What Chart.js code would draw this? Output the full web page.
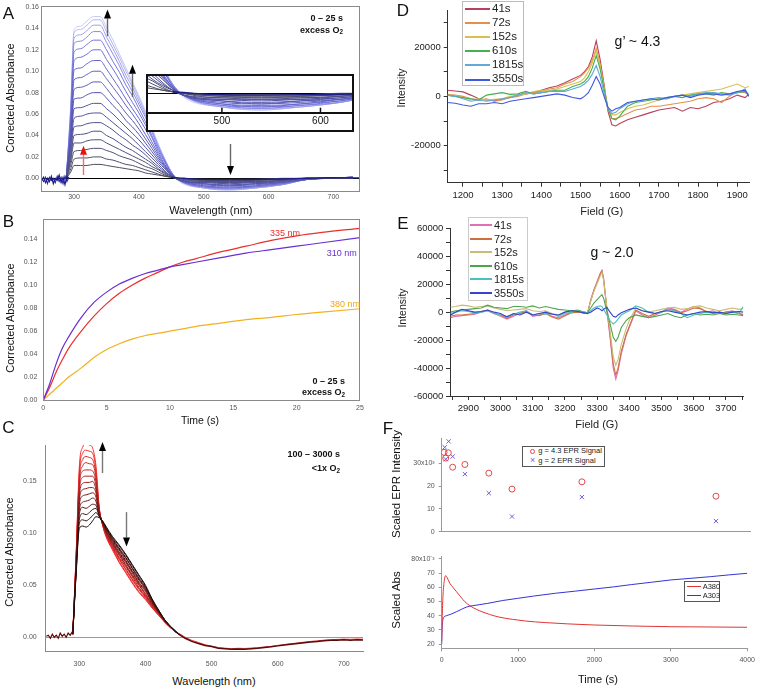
<!DOCTYPE html>
<html><head><meta charset="utf-8">
<script src="https://cdn.jsdelivr.net/npm/chart.js@4.4.1/dist/chart.umd.min.js"></script>
<style>
html,body{margin:0;padding:0;background:#fff;}
#root{position:relative;width:760px;height:688px;overflow:hidden;font-family:"Liberation Sans",Arial,Helvetica,sans-serif;}
.t{position:absolute;white-space:nowrap;line-height:1;}
.sub{font-size:0.7em;position:relative;top:0.25em;}
</style></head><body><div id="root"></div>
<script>
// ================= DATA =================
// ---- Panel A : spectra 0-25 s (nm vs corrected absorbance), early -> late
const A_X = [288,295,300,310,320,330,340,350,360,370,380,390,400,410,420,430,440,450,460,500,540,580,620,660,730];
const A_S01 = [0,.006,.012,.012,.012,.013,.013,.012,.011,.010,.009,.008,.007,.005,.004,.003,.002,.001,0,-.001,-.001,-.001,0,0,0];
const A_S02 = [0,.009,.018,.019,.019,.020,.020,.018,.017,.015,.013,.012,.010,.008,.006,.004,.002,.001,0,-.001,-.001,-.001,-.001,0,0];
const A_S03 = [0,.013,.025,.026,.027,.028,.028,.026,.024,.021,.019,.017,.014,.011,.009,.006,.003,.001,0,-.002,-.002,-.002,-.001,0,0];
const A_S04 = [0,.017,.033,.033,.035,.036,.036,.033,.030,.027,.024,.021,.018,.015,.011,.008,.004,.001,0,-.002,-.003,-.002,-.001,0,0];
const A_S05 = [0,.020,.040,.041,.042,.044,.044,.040,.037,.033,.029,.026,.022,.018,.014,.009,.005,.002,0,-.003,-.003,-.003,-.002,0,0];
const A_S06 = [0,.024,.048,.049,.051,.052,.052,.049,.045,.040,.036,.031,.027,.022,.016,.011,.006,.002,-.001,-.003,-.004,-.003,-.002,0,0];
const A_S07 = [0,.029,.056,.058,.060,.061,.061,.057,.052,.047,.042,.037,.031,.025,.019,.013,.007,.002,-.001,-.004,-.004,-.004,-.002,0,0];
const A_S08 = [0,.033,.065,.066,.068,.070,.070,.065,.060,.054,.048,.042,.036,.029,.022,.015,.009,.003,-.001,-.004,-.005,-.004,-.003,0,0];
const A_S09 = [0,.037,.074,.075,.078,.080,.080,.075,.068,.062,.054,.048,.041,.033,.025,.017,.010,.003,-.001,-.005,-.006,-.005,-.003,-.001,.001];
const A_S10 = [0,.042,.083,.085,.087,.090,.090,.084,.076,.069,.061,.054,.046,.037,.028,.019,.011,.004,-.001,-.005,-.007,-.005,-.004,-.001,.001];
const A_S11 = [0,.046,.092,.094,.097,.100,.100,.093,.085,.077,.068,.060,.051,.041,.031,.021,.012,.004,-.001,-.006,-.007,-.006,-.004,-.001,.001];
const A_S12 = [0,.051,.101,.103,.107,.110,.110,.102,.093,.084,.074,.065,.056,.046,.034,.023,.013,.004,-.001,-.007,-.008,-.007,-.004,-.001,.001];
const A_S13 = [0,.056,.110,.113,.116,.120,.120,.111,.102,.092,.081,.071,.061,.050,.038,.025,.015,.005,-.001,-.007,-.009,-.007,-.005,-.001,.001];
const A_S14 = [0,.060,.118,.121,.125,.129,.129,.120,.109,.099,.087,.077,.065,.053,.040,.027,.016,.005,-.001,-.008,-.009,-.008,-.005,-.001,.001];
const A_S15 = [0,.063,.126,.128,.132,.137,.137,.127,.116,.105,.092,.081,.069,.057,.043,.029,.017,.006,-.001,-.008,-.010,-.008,-.006,-.001,.001];
const A_S16 = [0,.066,.131,.134,.138,.143,.143,.132,.121,.109,.096,.085,.072,.059,.045,.030,.017,.006,-.001,-.009,-.010,-.009,-.006,-.001,.001];
const A_S17 = [0,.069,.136,.139,.143,.148,.148,.137,.125,.113,.100,.088,.075,.061,.046,.031,.018,.006,-.001,-.009,-.011,-.009,-.006,-.001,.001];
const A_S18 = [0,.070,.139,.142,.147,.151,.151,.141,.129,.116,.103,.090,.077,.063,.047,.032,.018,.006,-.002,-.009,-.011,-.009,-.006,-.001,.001];
const A_CURVES = [A_S01,A_S02,A_S03,A_S04,A_S05,A_S06,A_S07,A_S08,A_S09,A_S10,A_S11,A_S12,A_S13,A_S14,A_S15,A_S16,A_S17,A_S18];
const A_NOISE_X = [250,253,256,259,262,265,268,271,274,277,280,283,286,289,292];
const A_NOISE1 = [-0.002,0.001,-0.004,0.000,-0.003,0.002,-0.005,0.000,-0.002,0.003,-0.004,0.001,-0.006,0.002,0.000];
const A_NOISE2 = [0.000,-0.003,0.001,-0.005,0.001,-0.002,0.000,-0.004,0.002,-0.003,0.001,-0.005,0.002,-0.003,0.001];
const A_BASE_X = [450,470,500,540,580,620,660,700,740];
const A_BASE = [0.001,0,-0.001,-0.0012,-0.001,-0.0007,0,0.0005,0.0004];
const A_XTICKS = [300,400,500,600,700];
const A_YTICKS = [0,0.02,0.04,0.06,0.08,0.10,0.12,0.14,0.16];
const INSET_XTICKS = [500,600];

// ---- Panel B : kinetics 0-25 s
const B_T   = [0,0.5,1,1.5,2,3,4,5,6,7,8,9,10,11,12,14,16,18,20,22,25];
const B_335 = [0,.011,.024,.035,.045,.060,.073,.084,.093,.100,.106,.111,.116,.120,.123,.129,.134,.139,.143,.146,.1495];
const B_310 = [0,.014,.031,.045,.055,.072,.085,.094,.101,.106,.110,.113,.116,.118,.120,.124,.128,.131,.134,.137,.1415];
const B_380 = [0,.005,.010,.015,.020,.028,.037,.044,.049,.053,.056,.058,.060,.062,.064,.067,.070,.072,.0745,.0765,.0795];
const B_XTICKS = [0,5,10,15,20,25];
const B_YTICKS = [0,0.02,0.04,0.06,0.08,0.10,0.12,0.14];

// ---- Panel C : spectra 100-3000 s, early (black) -> late (red)
const C_X = [290,295,300,305,310,315,320,325,330,335,340,350,360,370,380,390,400,410,420,430,440,450];
const C_K00 = [.003,.060,.105,.107,.106,.108,.112,.116,.115,.112,.107,.097,.089,.080,.070,.060,.050,.037,.026,.016,.009,.003];
const C_K01 = [.003,.062,.110,.113,.112,.114,.117,.120,.116,.112,.106,.096,.088,.079,.069,.059,.049,.036,.026,.016,.009,.003];
const C_K02 = [.003,.063,.114,.119,.118,.120,.123,.124,.117,.111,.105,.095,.086,.077,.067,.057,.048,.036,.025,.016,.009,.003];
const C_K03 = [.003,.065,.119,.125,.124,.126,.128,.127,.117,.111,.105,.094,.085,.076,.066,.056,.047,.035,.025,.016,.009,.003];
const C_K04 = [.003,.066,.123,.130,.131,.132,.134,.131,.118,.111,.104,.093,.084,.074,.064,.055,.046,.034,.024,.015,.009,.003];
const C_K05 = [.003,.068,.128,.136,.137,.138,.139,.135,.119,.110,.103,.092,.082,.073,.063,.053,.045,.034,.024,.015,.009,.003];
const C_K06 = [.003,.069,.133,.142,.143,.144,.144,.139,.120,.110,.102,.091,.081,.072,.062,.052,.044,.033,.024,.015,.009,.003];
const C_K07 = [.003,.071,.137,.148,.149,.149,.150,.142,.120,.110,.102,.090,.080,.070,.060,.051,.042,.032,.023,.015,.008,.003];
const C_K08 = [.003,.072,.142,.154,.155,.155,.155,.146,.121,.110,.101,.089,.079,.069,.059,.050,.041,.031,.023,.015,.008,.003];
const C_K09 = [.003,.074,.147,.160,.161,.161,.160,.150,.122,.109,.100,.088,.077,.068,.058,.048,.040,.031,.023,.015,.008,.003];
const C_K10 = [.003,.075,.151,.165,.168,.167,.166,.154,.123,.109,.099,.087,.076,.066,.056,.047,.039,.030,.022,.014,.008,.003];
const C_K11 = [.003,.077,.156,.171,.174,.173,.171,.157,.123,.109,.099,.086,.075,.065,.055,.046,.038,.029,.022,.014,.008,.003];
const C_K12 = [.003,.078,.160,.177,.180,.179,.177,.161,.124,.108,.098,.085,.073,.063,.053,.044,.037,.029,.021,.014,.008,.003];
const C_K13 = [.003,.080,.165,.183,.186,.185,.182,.165,.125,.108,.097,.084,.072,.062,.052,.043,.036,.028,.021,.014,.008,.003];
const C_CURVES = [C_K00,C_K01,C_K02,C_K03,C_K04,C_K05,C_K06,C_K07,C_K08,C_K09,C_K10,C_K11,C_K12,C_K13];
const C_NOISE_X = [250,253,256,259,262,265,268,271,274,277,280,283,286,289,291];
const C_NOISE = [0.001,0.002,-0.001,0.003,0.000,0.002,-0.001,0.004,0.001,0.003,0.000,0.004,0.002,0.005,0.003];
const C_TAIL_X = [450,460,470,480,490,500,510,520,530,540,550,560,570,580,590,600,610,620,630,640,650,660,670,680,690,700,710,720,730];
const C_TAIL1 = [0.003,-0.001,-0.004,-0.006,-0.008,-0.009,-0.0105,-0.011,-0.0115,-0.0112,-0.0115,-0.011,-0.0105,-0.0098,-0.0092,-0.0083,-0.0075,-0.0068,-0.006,-0.0052,-0.0045,-0.004,-0.0033,-0.003,-0.0028,-0.0025,-0.0028,-0.0024,-0.0027];
const C_TAIL2 = [0.004,0.000,-0.003,-0.005,-0.0072,-0.0085,-0.0098,-0.0105,-0.011,-0.0106,-0.0108,-0.0104,-0.01,-0.0093,-0.0088,-0.0078,-0.007,-0.0062,-0.0055,-0.0047,-0.004,-0.0034,-0.0028,-0.0024,-0.0021,-0.0018,-0.002,-0.0017,-0.0019];
const C_XTICKS = [300,400,500,600,700];
const C_YTICKS = [0,0.05,0.10,0.15];

// ---- Panel D : EPR g' ~ 4.3 (intensity in thousands)
const D_NAMES = ['41s','72s','152s','610s','1815s','3550s'];
const D_FIELD = [1160,1180,1200,1220,1240,1260,1280,1300,1320,1340,1360,1380,1400,1420,1440,1460,1480,1500,1510,1520,1530,1540,1550,1560,1570,1580,1590,1600,1620,1640,1660,1680,1700,1720,1740,1760,1780,1800,1820,1840,1860,1880,1900,1920,1930];
const D_41   = [2.5,2.2,1.8,0.5,-1.0,-1.5,-1.8,-1.2,-0.5,0.5,1.0,1.5,2.5,3.5,4.2,5.5,7.0,8.5,10,12,16,22.5,15,5,-6,-11.5,-12,-11,-9.5,-8.5,-7.5,-6.5,-5.5,-5,-4.5,-6,-4.5,-5,-4,-2.5,-2,-1,0.5,-0.5,1];
const D_72   = [0.8,0.5,0,-1,-1.5,-1,-2,-1.5,-0.5,0,1,1.5,2,3,3.5,5,6,8,9.5,11.5,14.5,19.5,13,4,-5,-9,-9,-8.5,-7,-5.5,-5,-4,-4,-3.5,-3,-2.5,-2,-1,-0.5,-1,-2.5,0,2,1.5,0.5];
const D_152  = [0.5,0.3,-0.5,-1.5,-1,-1.5,-1.2,-1,0,0.5,1,2,2.5,2.5,3,4,5,6,7.5,10,13.5,18.5,12.5,3.5,-4.5,-7.5,-7.5,-6.5,-5,-4,-3.5,-2.5,-1.5,-1,0,0.5,1,1.5,2,2.5,3,4,5,3.5,4];
const D_610  = [0.5,0,-0.5,-1,-1.5,0.5,1,1.5,0.8,1,2,1,1.5,2,2.5,2.5,4,5,6,8,11.5,16.5,11,3,-5,-9,-9.5,-8,-4,-2.5,-2,-1.5,-1,-0.5,0,-0.5,0.5,1,1,0.5,1.5,1,1.5,2,0.5];
const D_1815 = [0.5,0,-1,-2,-1.5,-2,-1.5,-1,-0.5,0.5,1.5,1,1.5,2,2,2,3,4,5,6.5,9,12.5,8,1.5,-5,-7,-6.5,-5,-3,-2,-1.5,-1,-0.5,-1,0,0.5,0,1,1.5,1.5,1,0.5,1.5,3,0];
const D_3550 = [-2.5,-2.8,-3.5,-4,-3,-3,-2.5,-3,-2,-1.5,-1,-0.5,0,0.5,1,0.5,-0.5,-1,0,1.5,4.5,8,5,0,-4.5,-6,-5,-4.5,-2.5,-2,-1.5,-1,-1.5,-0.5,0,0.5,-0.5,0.5,1,1,0.5,1,2,2.5,0];
const D_SERIES = [D_41,D_72,D_152,D_610,D_1815,D_3550];
const D_XTICKS = [1200,1300,1400,1500,1600,1700,1800,1900];
const D_XMINOR = [1250,1350,1450,1550,1650,1750,1850];
const D_YTICKS = [-20000,0,20000];
const D_YMINOR = [-30000,-10000,10000,30000];

// ---- Panel E : EPR g ~ 2.0 (intensity in thousands)
const E_FIELD = [2845,2860,2880,2900,2920,2940,2960,2980,3000,3020,3040,3060,3080,3100,3120,3140,3160,3180,3200,3220,3240,3260,3270,3280,3290,3300,3310,3315,3320,3330,3340,3350,3358,3365,3375,3390,3400,3420,3440,3460,3480,3500,3520,3540,3560,3580,3600,3620,3640,3660,3680,3700,3720,3740,3754];
const E_41   = [-4,-3,-2.5,-2,-1.5,0,1,-1,-3,-5,-3,-1,1,-3,-2,0,-3,-4,-2,0,0.5,-1,-1,9,16,22,28,30,24,2,-18,-40,-48,-42,-30,-17,-11,1,-2,-4,-2,0,3,2,0,2,4,3,0,1,-1,0,1,-1,-2];
const E_72   = [-3,-2,-2,-1.5,-1,0.5,1.5,-1,-2,-4.5,-2,-1,0.5,-2,-2.5,-1,-3.5,-5,-2.5,-0.5,0,-0.5,-1,8,15.5,21.5,27.5,29.5,24,3,-16,-37,-45,-40,-28,-16,-10,1.5,-1,-3,-1,0,2,1.5,-0.5,1,3,2.5,0.5,0,-1,0,0.5,-1,-1.5];
const E_152  = [3.5,4,5,4.5,3.5,4,4.5,3,2,1,1.5,2,2.5,1,0.5,1,-1,-2,0,1,1,0,-0.5,8,15,20.5,26,28.5,23,4,-13,-32,-38,-34,-23,-12,-6,3,1,0,1,2,3,3.5,2,2.5,4,4.5,3,2,1,2,3,2,2.5];
const E_610  = [0,1,1.5,2,2.5,3,5,3.5,3,2.5,4,4,3.5,4.5,3,4,3,2,1.5,1,1.5,0,-0.5,3,6.5,9,11.5,12.5,10,1,-8,-18,-21,-18,-11,-6,-4,-2,-3,-4,-3,-2,-1,-3,-4,-2,-1,-2,-1.5,-2,-1,-2,-1.5,-2,-2.5];
const E_1815 = [-1,0,1,0.5,-0.5,0,1,-1,-2,-3,-1.5,0,1,-2,-1,-1.5,-1,-3,-1,0,1,0,-1,1,3,4,4.5,4,2,-2,-6,-8.5,-7,-5,-2,0,1,4.5,3,0,-1,0,2,1,-1,-4,-2,-1,0,-1,0,-1,0,-1,4];
const E_3550 = [-2,0,2,1,0,0.5,1.5,0,-1,-3.5,-1,-2,0,-2,-1,0,-1.5,-2,0,1,0.5,-0.5,-1,0,1.5,3,2,1,2,3.5,0,-3,-3.5,-2,-0.5,1,2,3,1,0,-1,0.5,1,0,-1,-2,-1,0,0.5,-0.5,0,-1,0,0.5,0];
const E_SERIES = [E_41,E_72,E_152,E_610,E_1815,E_3550];
const E_XTICKS = [2900,3000,3100,3200,3300,3400,3500,3600,3700];
const E_XMINOR = [2850,2950,3050,3150,3250,3350,3450,3550,3650,3750];
const E_YTICKS = [-60000,-40000,-20000,0,20000,40000,60000];
const E_YMINOR = [-50000,-30000,-10000,10000,30000,50000];

// ---- Panel F : scaled EPR intensity and scaled absorbance vs time
const F_EPR43_T = [30,52,86,142,300,610,910,1815,3550];
const F_EPR43   = [34.8,32.3,34.6,28.3,29.5,25.7,18.7,21.9,15.6];
const F_EPR2_T  = [39,52,90,142,300,610,910,1815,3550];
const F_EPR2    = [37.0,31.8,39.6,33.0,25.3,16.9,6.7,15.2,4.7];
const F_T380 = [0,10,20,35,51,70,107,150,194,250,302,370,453,540,625,750,927,1100,1359,1650,1998,2500,2999,3500,4000];
const F_A380 = [22,45,57,65,68.2,67,62.8,59.8,56.9,53.2,49.9,47,44.5,42.5,40.9,39,37.4,36.2,35.1,34.2,33.4,32.7,32.2,32,31.8];
const F_T303 = [0,3,8,15,30,64,120,194,260,323,400,500,604,800,992,1200,1488,1750,1998,2250,2481,2750,2999,3250,3517,3750,4000];
const F_A303 = [20,28,34,37,39,40,41,42.8,44.5,46,47,47.8,48.7,50.7,52.2,53.8,55.8,57.3,58.8,60.3,61.9,63.6,65.2,66.3,67.5,68.7,69.9];
const F_XTICKS = [0,1000,2000,3000,4000];
const F_TOP_YTICKS = [0,10,20,30];
const F_BOT_YTICKS = [20,30,40,50,60,70,80];

// ================= RENDERING =================
const FONT = '"Liberation Sans", Arial, Helvetica, sans-serif';
Chart.defaults.font.family = FONT;
const root = document.getElementById('root');

function mix(c1, c2, t){ return 'rgb(' + c1.map((v,i)=>Math.round(v+(c2[i]-v)*t)).join(',') + ')'; }
function ramp(stops, t){
  for (let i=1;i<stops.length;i++) if (t <= stops[i][0]) {
    const [t0,c0] = stops[i-1], [t1,c1] = stops[i];
    return mix(c0, c1, (t-t0)/(t1-t0));
  }
  const c = stops[stops.length-1][1]; return mix(c,c,0);
}

function line(xs, ys, color, w, opt={}) {
  const k = opt.k || 1;
  return Object.assign({
    data: xs.map((x,i)=>({x, y: ys[i]*k})),
    borderColor: color, backgroundColor: color, borderWidth: w,
    pointRadius: 0, fill: false,
    cubicInterpolationMode: opt.smooth === false ? 'default' : 'monotone',
    tension: opt.smooth === false ? 0 : 0.4
  }, opt.ds || {});
}

function axis(a, isX, fitSize) {
  const majors = a.ticks || [], minors = a.minor || [];
  const all = majors.concat(minors).sort((p,q)=>p-q);
  return {
    type: 'linear', position: isX ? 'bottom' : 'left', min: a.min, max: a.max,
    afterBuildTicks: s => { s.ticks = all.map(v=>({value:v})); },
    afterFit: s => { if (isX) s.height = fitSize; else s.width = fitSize; },
    ticks: { display: a.show !== false, autoSkip: false, maxRotation: 0, minRotation: 0,
      padding: a.pad ?? 3, color: a.color || '#555', font: {family: FONT, size: a.size || 7},
      callback: v => majors.includes(v) ? (a.fmt ? a.fmt(v) : String(v)) : '' },
    grid: { display: true, drawOnChartArea: false, drawTicks: !!a.tl, tickLength: a.tl || 0,
      color: a.line || '#888', tickColor: a.line || '#888', lineWidth: 1, tickWidth: 1 },
    border: { display: a.border !== false, color: a.line || '#888', width: a.bw || 1 }
  };
}

function panel(p) {
  const [L,T,W,H] = p.box, [al,at,ar,ab] = p.area;
  const cv = document.createElement('canvas');
  cv.width = W; cv.height = H;
  cv.style.cssText = `position:absolute;left:${L}px;top:${T}px;width:${W}px;height:${H}px`;
  (p.parent || root).appendChild(cv);
  return new Chart(cv.getContext('2d'), {
    type: 'line',
    data: { datasets: p.datasets },
    options: {
      responsive: false, maintainAspectRatio: false, animation: false, devicePixelRatio: 1, events: [],
      layout: { padding: { left: 0, top: at - T, right: L + W - ar, bottom: 0 } },
      scales: { x: axis(p.x, true, T + H - ab), y: axis(p.y, false, al - L) },
      plugins: { legend: { display: false }, tooltip: { enabled: false } },
      elements: { point: { radius: 0, hoverRadius: 0 } }
    },
    plugins: p.plugins || []
  });
}

// plugins
const framePlugin = color => ({ id: 'frame', afterDraw(c){ const {ctx, chartArea:a} = c; ctx.save(); ctx.strokeStyle = color; ctx.lineWidth = 1;
  ctx.strokeRect(Math.round(a.left)+0.5, Math.round(a.top)+0.5, Math.round(a.right-a.left)-1, Math.round(a.bottom-a.top)); ctx.restore(); } });
const hlinePlugin = (val, color, w) => ({ id: 'hline', beforeDatasetsDraw(c){ const {ctx, chartArea:a, scales:{y}} = c; const py = Math.round(y.getPixelForValue(val))+0.5;
  ctx.save(); ctx.strokeStyle = color; ctx.lineWidth = w; ctx.beginPath(); ctx.moveTo(a.left, py); ctx.lineTo(a.right, py); ctx.stroke(); ctx.restore(); } });
const arrowPlugin = list => ({ id: 'arrows', afterDatasetsDraw(c){ const {ctx, scales:{x, y}} = c;
  list.forEach(a => {
    const px = Math.round(x.getPixelForValue(a.x)) + 0.5, p0 = y.getPixelForValue(a.y0), p1 = y.getPixelForValue(a.y1);
    const dir = Math.sign(p1 - p0), hl = 9, hw = 3.5;
    ctx.save(); ctx.strokeStyle = a.shaft; ctx.lineWidth = 1.4;
    ctx.beginPath(); ctx.moveTo(px, p0); ctx.lineTo(px, p1 - dir*hl); ctx.stroke();
    ctx.fillStyle = a.head; ctx.beginPath(); ctx.moveTo(px, p1); ctx.lineTo(px-hw, p1-dir*hl); ctx.lineTo(px+hw, p1-dir*hl); ctx.closePath(); ctx.fill();
    ctx.restore();
  }); } });
const upTickPlugin = vals => ({ id: 'upticks', afterDraw(c){ const {ctx, chartArea:a, scales:{x}} = c; ctx.save(); ctx.strokeStyle = '#111'; ctx.lineWidth = 1.5;
  vals.forEach(v => { const px = x.getPixelForValue(v); ctx.beginPath(); ctx.moveTo(px, a.bottom); ctx.lineTo(px, a.bottom - 5); ctx.stroke(); }); ctx.restore(); } });

// text helpers
function txt(s, x, y, o={}) {
  const d = document.createElement('div'); d.className = 't'; d.innerHTML = s;
  d.style.left = x + 'px'; d.style.top = y + 'px'; d.style.fontSize = (o.size || 11) + 'px';
  if (o.bold) d.style.fontWeight = 'bold';
  d.style.color = o.color || '#111';
  const ax = o.align === 'right' ? '-100%' : o.align === 'left' ? '0' : '-50%';
  d.style.transform = `translate(${ax},-50%)` + (o.rot ? ' rotate(-90deg)' : '');
  root.appendChild(d); return d;
}
function box(l, t, w, h, border, bg) {
  const d = document.createElement('div');
  d.style.cssText = `position:absolute;left:${l}px;top:${t}px;width:${w}px;height:${h}px;box-sizing:border-box;border:${border};background:${bg||'transparent'}`;
  root.appendChild(d); return d;
}
function seg(x1, x2, y, color, w) {
  const d = document.createElement('div');
  d.style.cssText = `position:absolute;left:${x1}px;top:${Math.round(y - w/2)}px;width:${x2-x1}px;height:${w}px;background:${color}`;
  root.appendChild(d);
}

// ---------- Panel A ----------
const A_STOPS = [[0,[78,78,92]],[0.45,[82,82,172]],[0.75,[112,114,222]],[1,[198,201,246]]];
function aSets() {
  const s = [line(A_NOISE_X, A_NOISE1, '#1c1c8c', 1.2, {smooth:false}), line(A_NOISE_X, A_NOISE2, '#2a2aa0', 1.1, {smooth:false}),
             line(A_BASE_X, A_BASE, '#1e1e8a', 1.4)];
  A_CURVES.forEach((arr, i) => s.push(line(A_X, arr, ramp(A_STOPS, i/(A_CURVES.length-1)), 1)));
  return s;
}
panel({ box:[0,0,380,200], area:[41,6,360,190.7], datasets: aSets(),
  x:{min:249, max:741, ticks:A_XTICKS, pad:2, border:false},
  y:{min:-0.01156, max:0.1607, ticks:A_YTICKS, fmt:v=>v.toFixed(2), pad:2, border:false},
  plugins:[framePlugin('#8a8a8a'), hlinePlugin(0,'#000',1), arrowPlugin([
    {x:350.5, y0:0.1327, y1:0.1576, shaft:'#666', head:'#000'},
    {x:389, y0:0.0759, y1:0.106, shaft:'#666', head:'#000'},
    {x:313.4, y0:0.0031, y1:0.0304, shaft:'#f07070', head:'#e81010'},
    {x:540, y0:0.032, y1:0.0031, shaft:'#666', head:'#000'} ])] });

// inset
const inset = box(146, 74, 208, 58, '2px solid #111', '#fff');
panel({ parent: inset, box:[0,0,204,54], area:[0,0,204,36.7], datasets: aSets(),
  x:{min:425, max:632, ticks:INSET_XTICKS, pad:3, size:10, color:'#111', line:'#111', bw:2},
  y:{min:-0.0128, max:0.0114, ticks:[0], show:false, border:false},
  plugins:[hlinePlugin(0,'#000',1), upTickPlugin(INSET_XTICKS)] });

// ---------- Panel B ----------
panel({ box:[0,205,380,210], area:[43.3,219,360,400], datasets:[
    line(B_T, B_310, '#6a2fd2', 1.2), line(B_T, B_335, '#e8302c', 1.2), line(B_T, B_380, '#f4b01e', 1.2) ],
  x:{min:0, max:25, ticks:B_XTICKS, pad:4, border:false},
  y:{min:0, max:0.1577, ticks:B_YTICKS, fmt:v=>v.toFixed(2), pad:6, border:false},
  plugins:[framePlugin('#8a8a8a')] });

// ---------- Panel C ----------
const C_STOPS = [[0,[30,14,14]],[0.5,[150,26,26]],[1,[255,45,45]]];
const cSets = [line(C_NOISE_X, C_NOISE, '#5a0a0a', 1.2, {smooth:false}),
               line(C_TAIL_X, C_TAIL1, '#5a0a0a', 1.5, {smooth:false}),
               line(C_TAIL_X, C_TAIL2, '#e53a3a', 1, {smooth:false})];
C_CURVES.forEach((arr, i) => cSets.push(line(C_X, arr, ramp(C_STOPS, i/(C_CURVES.length-1)), 1)));
panel({ box:[0,430,380,240], area:[45.7,445,363,651.7], datasets: cSets,
  x:{min:249, max:729, ticks:C_XTICKS, pad:8},
  y:{min:-0.0139, max:0.185, ticks:C_YTICKS, fmt:v=>v.toFixed(2), pad:9},
  plugins:[hlinePlugin(0,'#999',1), arrowPlugin([
    {x:334.7, y0:0.158, y1:0.1879, shaft:'#777', head:'#000'},
    {x:370, y0:0.1204, y1:0.0873, shaft:'#777', head:'#000'} ])] });

// ---------- Panel D ----------
const D_COLORS = ['#b8405e','#e4904c','#d8c04e','#46b050','#62a8d8','#4058e0'];
panel({ box:[385,0,375,200], area:[447.7,10,749,182.7],
  datasets: D_SERIES.map((s,i)=>line(D_FIELD, s, D_COLORS[i], 1.1, {k:1000, smooth:false})).reverse(),
  x:{min:1161, max:1930, ticks:D_XTICKS, minor:D_XMINOR, tl:4, pad:3, size:9.5, color:'#222', line:'#333'},
  y:{min:-35000, max:35000, ticks:D_YTICKS, minor:D_YMINOR, tl:4, pad:3, size:9.5, color:'#222', line:'#333'} });

// ---------- Panel E ----------
const E_COLORS = ['#e070b4','#cc7040','#cabc78','#4ea44e','#4cc0c0','#3444cc'];
panel({ box:[385,215,375,200], area:[450,228.3,743.3,396],
  datasets: E_SERIES.map((s,i)=>line(E_FIELD, s, E_COLORS[i], 1.1, {k:1000, smooth:false})).reverse(),
  x:{min:2843, max:3754, ticks:E_XTICKS, minor:E_XMINOR, tl:4, pad:2.5, size:9.5, color:'#222', line:'#333'},
  y:{min:-60000, max:60000, ticks:E_YTICKS, minor:E_YMINOR, tl:4, pad:2.7, size:9.5, color:'#222', line:'#333'} });

// ---------- Panel F top ----------
panel({ box:[385,430,375,110], area:[441.7,437,750.7,533], datasets:[
    line(F_EPR43_T, F_EPR43, '#e04848', 1, {smooth:false, ds:{showLine:false, pointRadius:3, pointStyle:'circle', pointBorderColor:'#e04848', pointBackgroundColor:'rgba(0,0,0,0)', pointBorderWidth:1}}),
    line(F_EPR2_T, F_EPR2, '#7a58e0', 1, {smooth:false, ds:{showLine:false, pointRadius:3, pointStyle:'crossRot', pointBorderColor:'#7a58e0', pointBorderWidth:1}}) ],
  x:{min:0, max:4000, ticks:F_XTICKS, show:false, line:'#999'},
  y:{min:0, max:41, ticks:F_TOP_YTICKS, fmt:v=>v===30?'30x10\u00b3':String(v), tl:3, pad:4, line:'#999'} });

// ---------- Panel F bottom ----------
panel({ box:[385,548,375,125], area:[441.7,556.7,750.7,648.3], datasets:[
    line(F_T380, F_A380, '#e03434', 1), line(F_T303, F_A303, '#3434d4', 1) ],
  x:{min:0, max:4000, ticks:F_XTICKS, tl:3, pad:5, line:'#999'},
  y:{min:16.97, max:81.6, ticks:F_BOT_YTICKS, fmt:v=>v===80?'80x10\u207b\u00b3':String(v), tl:3, pad:4, line:'#999'} });

// ---------- texts ----------
const O2 = 'excess O<span class="sub">2</span>';
txt('A', 8.5, 12.5, {size:17}); txt('B', 8.5, 221, {size:17}); txt('C', 8.5, 427, {size:17});
txt('D', 403, 9.5, {size:17}); txt('E', 403, 223, {size:17}); txt('F', 388, 428, {size:17});

txt('Corrected Absorbance', 10, 98, {size:11, rot:true});
txt('Wavelength (nm)', 210.8, 210, {size:11});
txt('0 \u2013 25 s', 343, 18, {size:9, bold:true, align:'right'});
txt(O2, 343, 29.5, {size:9, bold:true, align:'right'});

txt('Corrected Absorbance', 10, 317.5, {size:11, rot:true});
txt('Time (s)', 200, 420, {size:10.5});
txt('335 nm', 285, 233, {size:9, color:'#e8302c'});
txt('310 nm', 341.7, 253.3, {size:9, color:'#6a2fd2'});
txt('380 nm', 345, 304.3, {size:9, color:'#f0a818'});
txt('0 \u2013 25 s', 345, 380.7, {size:9, bold:true, align:'right'});
txt(O2, 345, 392.2, {size:9, bold:true, align:'right'});

txt('Corrected Absorbance', 8.5, 551.7, {size:11, rot:true});
txt('Wavelength (nm)', 214, 681, {size:11});
txt('100 \u2013 3000 s', 340, 454.3, {size:9, bold:true, align:'right'});
txt('&lt;1x O<span class="sub">2</span>', 340, 468.2, {size:9, bold:true, align:'right'});

txt('Intensity', 401, 88.3, {size:10.5, rot:true, color:'#222'});
txt('Field (G)', 601.7, 211, {size:11, color:'#222'});
txt('g\u2019 ~ 4.3', 637.5, 40.7, {size:14});
box(462, 1, 62, 85, '1px solid #bbb', '#fff');
D_NAMES.forEach((n,i)=>{ const y = 9 + i*14.06; seg(465, 490, y, D_COLORS[i], 1.6); txt(n, 492, y, {size:11.5, align:'left', color:'#222'}); });

txt('Intensity', 402, 307.5, {size:10.5, rot:true, color:'#222'});
txt('Field (G)', 596.7, 424, {size:11, color:'#222'});
txt('g ~ 2.0', 612, 251.7, {size:14});
box(468, 217, 60, 84, '1px solid #ccc', '#fff');
D_NAMES.forEach((n,i)=>{ const y = 225 + i*13.55; seg(470, 492, y, E_COLORS[i], 1.6); txt(n, 494, y, {size:11, align:'left', color:'#222'}); });

txt('Scaled EPR Intensity', 396.5, 484, {size:11.5, rot:true});
txt('Scaled Abs', 396.5, 600, {size:11.5, rot:true});
txt('Time (s)', 598, 678.7, {size:11});
box(522.3, 446, 82.7, 21, '1px solid #555', '#fff');
const circ = document.createElement('div');
circ.style.cssText = 'position:absolute;left:530px;top:448.8px;width:5px;height:5px;border:1px solid #e04848;border-radius:50%;box-sizing:border-box';
root.appendChild(circ);
txt('\u00d7', 532.7, 460, {size:9, color:'#7a58e0'});
txt('g = 4.3 EPR Signal', 538.3, 451.3, {size:7.5, align:'left', color:'#222'});
txt('g = 2 EPR Signal', 538.3, 460.5, {size:7.5, align:'left', color:'#222'});
box(684.3, 581, 36, 21, '1px solid #555', '#fff');
seg(687, 700.7, 586.7, '#e03434', 1); seg(687, 700.7, 595.7, '#3434d4', 1);
txt('A380', 702.7, 586.7, {size:7.5, align:'left', color:'#222'});
txt('A303', 702.7, 595.7, {size:7.5, align:'left', color:'#222'});
</script></body></html>
